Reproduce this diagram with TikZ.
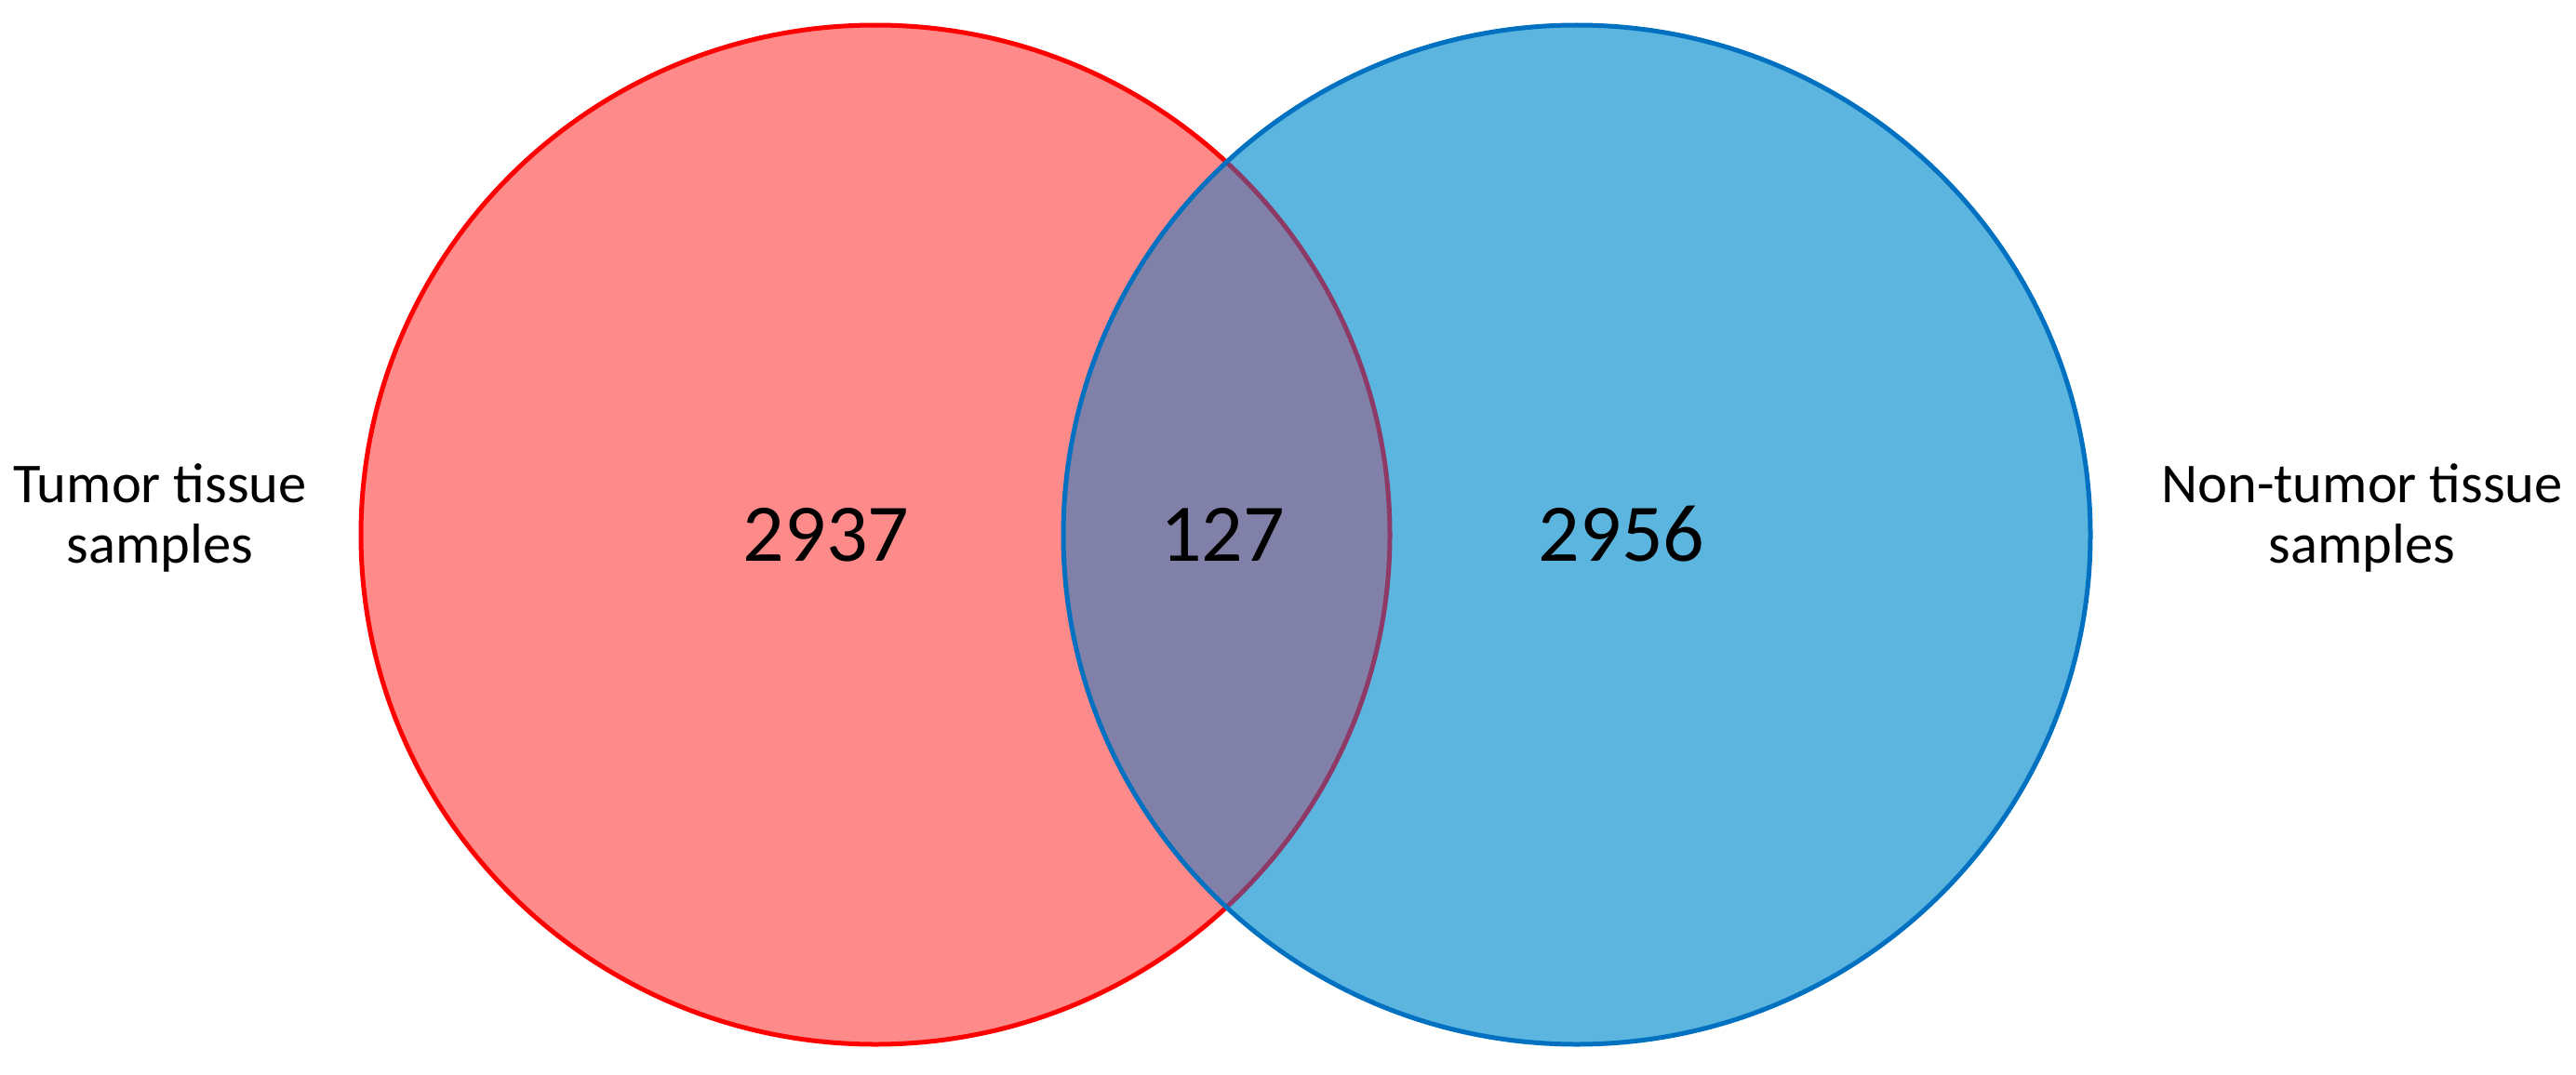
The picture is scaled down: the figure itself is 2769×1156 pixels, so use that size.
\documentclass[tikz,border=0pt]{standalone}
\usepackage{fontspec}
\setmainfont{Carlito}
\definecolor{pinkfill}{HTML}{FF8A8A}
\definecolor{bluefill}{HTML}{5BB5DF}
\definecolor{overlapfill}{HTML}{8080A8}
\definecolor{redline}{HTML}{FF0000}
\definecolor{blueline}{HTML}{0070C0}
\definecolor{purpleline}{HTML}{8E3A66}
\begin{document}
\begin{tikzpicture}[x=1pt,y=-1pt,
  outline/.style={line width=5pt},
  numlabel/.style={anchor=base,inner sep=0pt,font=\fontsize{88}{100}\selectfont},
  setlabel/.style={anchor=base,inner sep=0pt,align=center,font=\fontsize{60.5}{65}\selectfont}]
\useasboundingbox (0,0) rectangle (2769,1156);
% left set
\fill[pinkfill] (941,575) ellipse [x radius=553, y radius=548];
\draw[outline,redline] (941,575) ellipse [x radius=553, y radius=548];
% right set
\fill[bluefill] (1695,575) ellipse [x radius=552, y radius=548];
% overlap
\begin{scope}
  \clip (941,575) ellipse [x radius=553, y radius=548];
  \fill[overlapfill] (1695,575) ellipse [x radius=552, y radius=548];
\end{scope}
\begin{scope}
  \clip (1695,575) ellipse [x radius=552, y radius=548];
  \draw[outline,purpleline] (941,575) ellipse [x radius=553, y radius=548];
\end{scope}
\draw[outline,blueline] (1695,575) ellipse [x radius=552, y radius=548];
% numbers
\node[numlabel] (left) at (888,603) {2937};
\node[numlabel] (both) at (1314,603) {127};
\node[numlabel] (right) at (1743,603) {2956};
% set labels
\node[setlabel] (tumor) at (172,605) {Tumor tissue\\samples};
\node[setlabel] (nontumor) at (2539,605) {Non-tumor tissue\\samples};
\end{tikzpicture}
\end{document}
